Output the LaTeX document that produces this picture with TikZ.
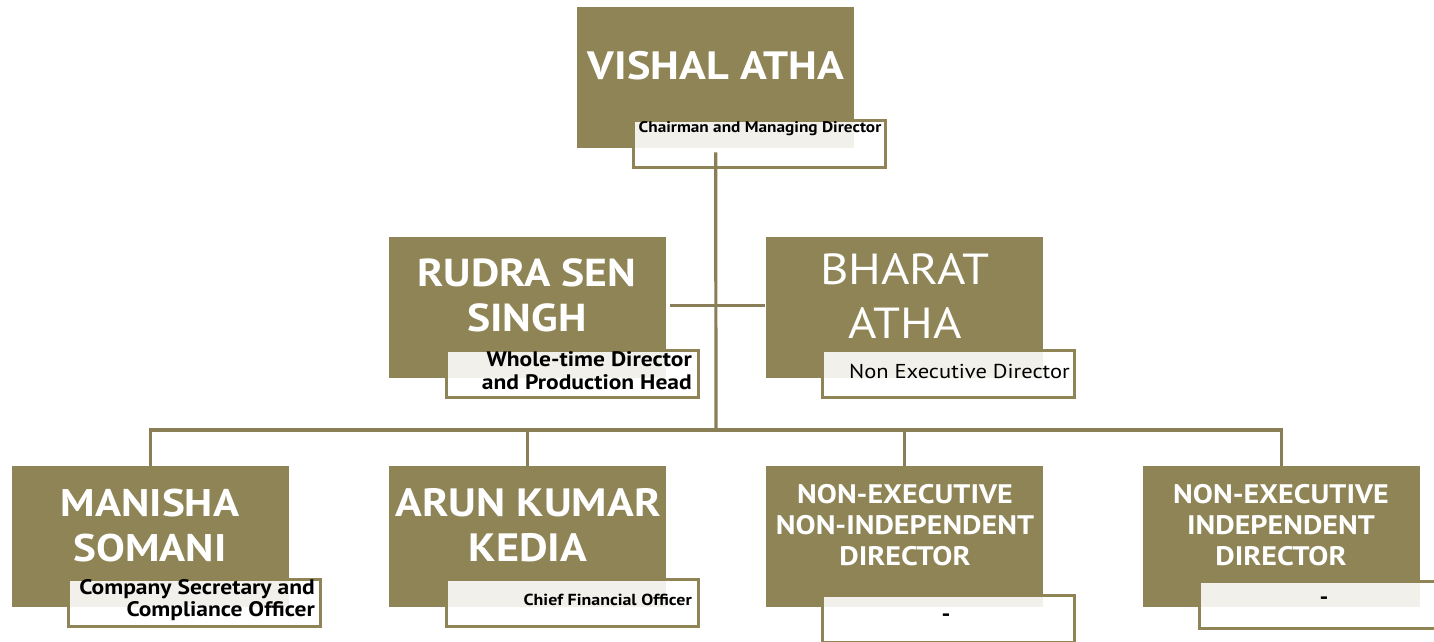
\documentclass[tikz,border=0pt]{standalone}
\usepackage{fontspec}
\setmainfont{PT Sans}[FakeStretch=1.12]
\usetikzlibrary{calc}
\definecolor{boxolive}{HTML}{8E8455}
\definecolor{lineolive}{HTML}{8A7E56}
\tikzset{
  big/.style={fill=boxolive, draw=none, anchor=north west, inner sep=0pt, minimum width=277pt, minimum height=141pt},
  lab/.style={draw=boxolive, line width=3pt, fill=white, fill opacity=0.88, anchor=north west, inner sep=0pt, minimum width=252pt, minimum height=47pt},
  bname/.style={text=white, font=\bfseries\fontsize{39}{45}\selectfont, align=center, inner sep=0pt},
  rname/.style={text=white, font=\fontsize{43.5}{54}\selectfont, align=center, inner sep=0pt},
  tname/.style={text=white, font=\bfseries\fontsize{26.8}{31}\selectfont, align=center, inner sep=0pt},
  ltext/.style={text=black, font=\bfseries\fontsize{21}{23}\selectfont, align=right, inner sep=0pt},
  conn/.style={draw=lineolive, line width=3.2pt}
}
\begin{document}
\begin{tikzpicture}[x=1pt,y=-1pt]
\useasboundingbox (0,0) rectangle (1434,641);
% boxes
\node[big] (v) at (577,7) {};
\node[big] (r) at (389,237) {};
\node[big] (b) at (766,237) {};
\node[big] (m) at (12,466) {};
\node[big] (a) at (389,466) {};
\node[big] (n) at (766,466) {};
\node[big] (i) at (1143,466) {};
% names
\node[text=white, font=\bfseries\fontsize{39.5}{50}\selectfont, inner sep=0pt] (vn) at (716,66) {VISHAL ATHA};
\node[bname] (rn) at (527,295.5) {RUDRA SEN\\SINGH};
\node[rname] (bn) at (905,296.5) {BHARAT\\ATHA};
\node[bname, font=\bfseries\fontsize{38.5}{45}\selectfont] (mn) at (150,525.5) {MANISHA\\SOMANI};
\node[bname, font=\bfseries\fontsize{39.5}{45}\selectfont] (an) at (528,525) {ARUN KUMAR\\KEDIA};
\node[tname] (nn) at (905,525) {NON-EXECUTIVE\\NON-INDEPENDENT\\DIRECTOR};
\node[tname] (in) at (1281,525) {NON-EXECUTIVE\\INDEPENDENT\\DIRECTOR};
% label boxes
\node[lab] (vl) at (631.5,118.5) {};
\node[lab] (rl) at (444.5,348.5) {};
\node[lab] (bl) at (820.5,348.5) {};
\node[lab] (ml) at (66.5,577.5) {};
\node[lab] (al) at (444.5,577.5) {};
\node[lab] (nl) at (820.5,593.5) {};
\node[lab] (il) at (1197.5,579.5) {};
% label texts
\node[ltext, font=\bfseries\fontsize{15.4}{17}\selectfont] (vt) at (760,129) {Chairman and Managing Director};
\node[ltext, anchor=east] (rt) at (692,370.5) {Whole-time Director\\and Production Head};
\node[ltext, anchor=east, font=\fontsize{20.1}{23}\selectfont] (bt) at (1070,371) {Non Executive Director};
\node[ltext, anchor=east, font=\bfseries\fontsize{21}{22}\selectfont] (mt) at (315,600) {Company Secretary and\\Compliance Officer};
\node[ltext, anchor=east, font=\bfseries\fontsize{16}{18}\selectfont] (at) at (692,600) {Chief Financial Officer};
\node[ltext, font=\bfseries\fontsize{22}{23}\selectfont] (nt) at (946,618) {-};
\node[ltext, font=\bfseries\fontsize{22}{23}\selectfont] (it) at (1324,601) {-};
% connectors
\coordinate (bus) at (716,430);
\draw[conn] (v.south) ++(0,4) -- (bus);
\draw[conn] (r.east) ++(4,-2) -- ($(b.west)+(-1,-2)$);
\draw[conn] (m.north) -- ++(0,-36) -| (i.north);
\draw[conn] (a.north) -- ++(0,-36);
\draw[conn] (n.north) -- ++(0,-36);
\end{tikzpicture}
\end{document}
